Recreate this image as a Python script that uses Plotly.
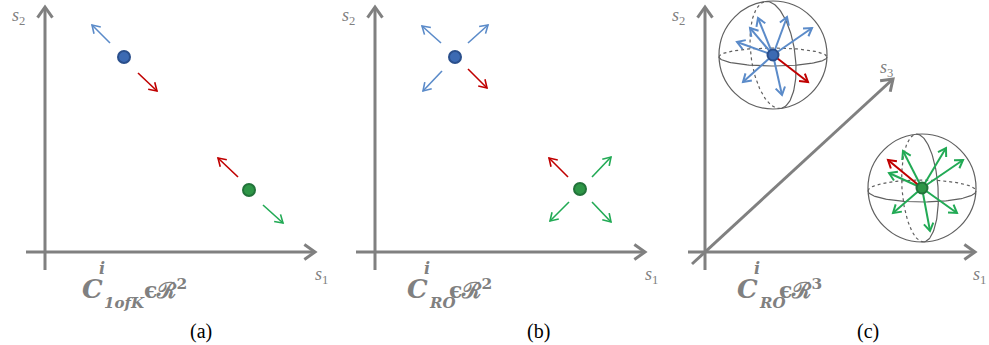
import numpy as np
import plotly.graph_objects as go

W, H = 989, 345
GRAY = "#808080"
BLUE_ARROW = "#5B8BC9"
RED = "#C00000"
GREEN_ARROW = "#22AA55"
BLUE_DOT = "#2A4F8C"
GREEN_DOT = "#22733A"
SPHERE = "#606060"

# ---- data (pixel-space diagram coordinates) ----
panel_offsets = [0, 330, 660]
panel_names = ["(a)", "(b)", "(c)"]

# 2D axes per panel: origin x, axis y
axis_origin_x = [45, 375, 705]
axis_y = 252
axis_x_start = [26, 356, 688]
axis_x_end = [315, 645, 975]
axis_y_top = 7
axis_y_bottom = 270

# diagonal s3 axis in panel (c)
s3_start = (692, 264)
s3_end = (893, 79)

# dots
blue_dots_x = [124, 455]
blue_dots_y = [57, 57]
green_dots_x = [249, 580]
green_dots_y = [190, 189]

# panel (a) arrows: [x0, y0, x1, y1]
a_blue = [[110, 43, 92, 25]]
a_red = [[138, 73, 157, 91], [238, 177, 218, 158]]
a_green = [[263, 205, 283, 223]]

# panel (b) arrows
b_blue = [[441, 43, 422, 26], [468, 43, 488, 25], [442, 71, 423, 91]]
b_red = [[468, 69, 487, 88], [568, 177, 549, 158]]
b_green = [[592, 177, 611, 157], [569, 202, 550, 221], [592, 202, 611, 222]]

# panel (c) spheres
sphere_blue_center = (773, 55)
sphere_green_center = (922, 188)
sphere_radius = 54
blue_tips_x = [743, 782, 737, 750, 758, 787, 812]
blue_tips_y = [82, 95, 42, 28, 18, 17, 28]
blue_red_tip = (808, 82)
green_tips_x = [903, 889, 946, 963, 893, 930, 957]
green_tips_y = [151, 173, 148, 160, 213, 231, 213]
green_red_tip = (888, 160)

fig = go.Figure()


def head(x0, y0, x1, y1, L=9, ang=32):
    dx, dy = x1 - x0, y1 - y0
    n = np.hypot(dx, dy)
    ux, uy = dx / n, dy / n
    pts = []
    for s in (1, -1):
        a = np.radians(ang) * s
        rx = ux * np.cos(a) - uy * np.sin(a)
        ry = ux * np.sin(a) + uy * np.cos(a)
        pts.append((x1 - L * rx, y1 - L * ry))
    return pts


def add_arrows(segs, color, width, L=9, ang=32):
    xs, ys = [], []
    for x0, y0, x1, y1 in segs:
        p1, p2 = head(x0, y0, x1, y1, L, ang)
        xs += [x0, x1, None, p1[0], x1, p2[0], None]
        ys += [y0, y1, None, p1[1], y1, p2[1], None]
    fig.add_trace(go.Scatter(x=xs, y=ys, mode="lines",
                             line=dict(color=color, width=width),
                             hoverinfo="skip", showlegend=False))


# axes
axis_segs = []
for i in range(3):
    axis_segs.append([axis_origin_x[i], axis_y_bottom, axis_origin_x[i], axis_y_top])
    axis_segs.append([axis_x_start[i], axis_y, axis_x_end[i], axis_y])
axis_segs.append([s3_start[0], s3_start[1], s3_end[0], s3_end[1]])
add_arrows(axis_segs, GRAY, 3, L=13, ang=35)


def ellipse(cx, cy, a, b, tilt_deg, t0, t1, n=80):
    t = np.linspace(t0, t1, n)
    th = np.radians(tilt_deg)
    x = a * np.cos(t)
    y = b * np.sin(t)
    return cx + x * np.cos(th) - y * np.sin(th), cy + x * np.sin(th) + y * np.cos(th)


for (cx, cy), eq_dy, eq_b, mer_dx, mer_a, tilt in [
        (sphere_blue_center, 2, 9, 0, 22, -8),
        (sphere_green_center, 3, 11, -2, 18, -4)]:
    fig.add_shape(type="circle", x0=cx - sphere_radius, x1=cx + sphere_radius,
                  y0=cy - sphere_radius, y1=cy + sphere_radius,
                  line=dict(color=SPHERE, width=1.2), layer="below")
    ex, ey = ellipse(cx, cy + eq_dy, sphere_radius, eq_b, 0, 0, np.pi)
    fig.add_trace(go.Scatter(x=ex, y=ey, mode="lines", line=dict(color=SPHERE, width=1.2),
                             hoverinfo="skip", showlegend=False))
    ex, ey = ellipse(cx, cy + eq_dy, sphere_radius, eq_b, 0, np.pi, 2 * np.pi)
    fig.add_trace(go.Scatter(x=ex, y=ey, mode="lines", line=dict(color=SPHERE, width=1.2, dash="dot"),
                             hoverinfo="skip", showlegend=False))
    mx, my = ellipse(cx + mer_dx, cy, sphere_radius, mer_a, 90 + tilt, 0, np.pi)
    fig.add_trace(go.Scatter(x=mx, y=my, mode="lines", line=dict(color=SPHERE, width=1.2, dash="dot"),
                             hoverinfo="skip", showlegend=False))
    mx, my = ellipse(cx + mer_dx, cy, sphere_radius, mer_a, 90 + tilt, np.pi, 2 * np.pi)
    fig.add_trace(go.Scatter(x=mx, y=my, mode="lines", line=dict(color=SPHERE, width=1.2),
                             hoverinfo="skip", showlegend=False))

# arrows panels a, b
add_arrows(a_blue + b_blue, BLUE_ARROW, 1.6)
add_arrows(a_red + b_red, RED, 1.6)
add_arrows(a_green + b_green, GREEN_ARROW, 1.6)

# arrows panel c
bc = sphere_blue_center
gc = sphere_green_center
add_arrows([[bc[0], bc[1], x, y] for x, y in zip(blue_tips_x, blue_tips_y)], BLUE_ARROW, 2)
add_arrows([[bc[0], bc[1], blue_red_tip[0], blue_red_tip[1]]], RED, 2)
add_arrows([[gc[0], gc[1], x, y] for x, y in zip(green_tips_x, green_tips_y)], GREEN_ARROW, 2)
add_arrows([[gc[0], gc[1], green_red_tip[0], green_red_tip[1]]], RED, 2)

# dots
fig.add_trace(go.Scatter(x=blue_dots_x + [bc[0]], y=blue_dots_y + [bc[1]], mode="markers",
                         marker=dict(size=[12, 12, 11], color="#3C6AB3", opacity=1,
                                     line=dict(color=BLUE_DOT, width=2)),
                         hoverinfo="skip", showlegend=False))
fig.add_trace(go.Scatter(x=green_dots_x + [gc[0]], y=green_dots_y + [gc[1]], mode="markers",
                         marker=dict(size=[12, 12, 11], color="#2E9647", opacity=1,
                                     line=dict(color=GREEN_DOT, width=2)),
                         hoverinfo="skip", showlegend=False))

# text
ann = []
SER = "DejaVu Serif"


def txt(x, y, s, size, color=GRAY, family=SER, xanchor="center"):
    ann.append(dict(x=x, y=y, xref="x", yref="y", text=s, showarrow=False,
                    font=dict(size=size, color=color, family=family),
                    xanchor=xanchor, yanchor="middle"))


for i, off in enumerate(panel_offsets):
    txt(off + 18, 16, "<i>s</i><sub>2</sub>", 18, family="Liberation Serif")
    txt(min(off + 321, 979), 275, "<i>s</i><sub>1</sub>", 18, family="Liberation Serif")
txt(886, 68, "<i>s</i><sub>3</sub>", 18, family="Liberation Serif")

label_subs = ["1ofK", "RO", "RO"]
label_pow = ["2", "2", "3"]
label_c_x = [92, 417, 747]
for i in range(3):
    cx = label_c_x[i]
    txt(cx, 289, "<b><i>C</i></b>", 26)
    txt(cx + 10, 268, "<b><i>i</i></b>", 16)
    sub_w = 38 if i == 0 else 18
    txt(cx + 10, 303, "<b><i>%s</i></b>" % label_subs[i], 15, xanchor="left")
    txt(cx + 12 + sub_w, 289, "<b>ϵℛ</b><sup><b>%s</b></sup>" % label_pow[i], 22, xanchor="left")

centers_lab = [201, 538, 868]
for i in range(3):
    txt(centers_lab[i], 331, panel_names[i], 20, color="#000000", family="Liberation Serif")

fig.update_layout(
    width=W, height=H, margin=dict(l=0, r=0, t=0, b=0),
    paper_bgcolor="white", plot_bgcolor="white",
    xaxis=dict(range=[0, W], visible=False, fixedrange=True),
    yaxis=dict(range=[H, 0], visible=False, fixedrange=True),
    annotations=ann,
)
fig.write_html("out.html", config={"displayModeBar": False},
               post_script="document.body.style.margin='0';document.body.style.overflow='hidden';")
